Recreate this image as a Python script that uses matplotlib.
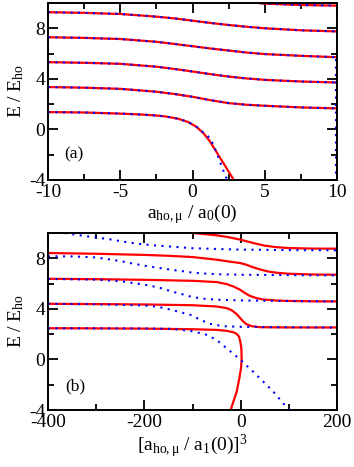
import matplotlib
matplotlib.use("Agg")
import matplotlib.pyplot as plt
from matplotlib.ticker import MultipleLocator

plt.rcParams['font.family'] = ['Liberation Serif', 'DejaVu Serif']
plt.rcParams['mathtext.fontset'] = 'custom'
plt.rcParams['mathtext.rm'] = 'Liberation Serif'
plt.rcParams['mathtext.it'] = 'Liberation Serif:italic'
plt.rcParams['axes.unicode_minus'] = False

# ---- panel (a): s-wave levels ----
xa = [-10, -7.5, -5, -2.5, -1.25, 0, 1.25, 2.5, 3.75, 5, 7.5, 10]
a_lev1 = [9.27, 9.22, 9.13, 8.92, 8.78, 8.6, 8.42, 8.26, 8.12, 8.0, 7.84, 7.75]
a_lev2 = [7.29, 7.24, 7.15, 6.93, 6.76, 6.58, 6.40, 6.24, 6.08, 5.96, 5.82, 5.71]
a_lev3 = [5.32, 5.27, 5.19, 4.96, 4.78, 4.58, 4.37, 4.18, 4.03, 3.92, 3.79, 3.71]
a_lev4 = [3.35, 3.30, 3.21, 2.98, 2.80, 2.58, 2.31, 2.08, 1.95, 1.87, 1.74, 1.66]
a_top_x = [3.2, 3.75, 5, 7.5, 10]
a_top_y = [10.15, 10.08, 9.95, 9.84, 9.79]
a_gnd_x = [-10, -7.5, -5, -3.75, -2.5, -1.9, -0.98, -0.29, 0.29, 0.75, 1.21, 1.56, 1.9, 2.25, 2.6, 2.87]
a_gnd_red = [1.37, 1.34, 1.25, 1.19, 1.1, 1.03, 0.84, 0.58, 0.19, -0.29, -0.95, -1.6, -2.23, -2.87, -3.52, -4.02]
a_gnd_bx = [-10, -7.5, -5, -3.75, -2.5, -1.9, -0.98, -0.29, 0.29, 0.75, 1.21, 1.44, 1.65, 1.85, 2.05, 2.25, 2.42]
a_gnd_blue = [1.37, 1.34, 1.25, 1.19, 1.1, 1.03, 0.84, 0.58, 0.19, -0.25, -0.68, -1.21, -1.79, -2.39, -3.0, -3.6, -4.02]
a_edge_x = [9.95, 9.95]
a_edge_y = [5.6, -4.0]

# ---- panel (b): p-wave levels ----
b_r0_x = [-98, -50, -25, 0, 26, 50, 75, 100, 150, 200]
b_r0_y = [10.0, 9.82, 9.67, 9.47, 9.21, 9.0, 8.88, 8.81, 8.77, 8.76]
b_r1_x = [-400, -300, -200, -150, -100, -50, -25, 0, 12, 25, 36, 50, 61, 75, 100, 150, 200]
b_r1_y = [8.42, 8.36, 8.27, 8.2, 8.1, 7.89, 7.75, 7.62, 7.49, 7.3, 7.17, 7.02, 6.93, 6.86, 6.78, 6.72, 6.7]
b_r2_x = [-400, -300, -200, -100, -50, -29, -15, -1, 9, 19, 33, 47, 75, 100, 150, 200]
b_r2_y = [6.38, 6.35, 6.3, 6.22, 6.12, 5.96, 5.77, 5.51, 5.25, 5.03, 4.85, 4.74, 4.66, 4.63, 4.6, 4.59]
b_r3_x = [-400, -300, -200, -100, -50, -29, -19, -8, -1, 5.5, 12, 23, 40, 100, 200]
b_r3_y = [4.4, 4.38, 4.35, 4.29, 4.19, 4.06, 3.9, 3.58, 3.27, 3.0, 2.79, 2.63, 2.55, 2.53, 2.53]
b_r4_x = [-400, -300, -200, -100, -50, -29, -15, -8.3, -3.5, -0.7, 1.4, 2.1, 0.7, -2.8, -8.3, -15.2, -20.8]
b_r4_y = [2.47, 2.46, 2.44, 2.39, 2.34, 2.26, 2.15, 2.02, 1.81, 1.41, 0.88, 0.09, -0.7, -1.49, -2.55, -3.34, -4.0]

b_b1_x = [-365, -330, -300, -271, -244, -212, -181, -150, -122, -100, -50, 0, 100, 200]
b_b1_y = [10.0, 9.8, 9.65, 9.5, 9.32, 9.15, 9.03, 8.94, 8.86, 8.8, 8.74, 8.69, 8.65, 8.63]
b_b2_x = [-400, -350, -300, -268, -247, -226, -199, -171, -143, -116, -100, -50, 0, 100, 200]
b_b2_y = [8.16, 8.15, 8.07, 7.89, 7.76, 7.6, 7.41, 7.25, 7.09, 6.96, 6.86, 6.74, 6.7, 6.67, 6.65]
b_b3_x = [-400, -300, -247, -199, -171, -143, -122, -100, -75, -50, 0, 100, 200]
b_b3_y = [6.37, 6.31, 6.18, 5.91, 5.7, 5.38, 5.17, 4.93, 4.8, 4.73, 4.67, 4.62, 4.59]
b_b4_x = [-400, -300, -200, -171, -143, -122, -102, -84, -64, -36, 0, 100, 200]
b_b4_y = [4.4, 4.37, 4.27, 4.16, 3.92, 3.71, 3.5, 3.14, 2.82, 2.63, 2.58, 2.55, 2.53]
b_b5_x = [-400, -200, -143, -105, -74, -50, -29, 0, 33, 68, 96, 103]
b_b5_y = [2.47, 2.45, 2.42, 2.26, 2.0, 1.55, 0.88, -0.04, -1.23, -2.55, -3.82, -4.1]

RED = '#ff0000'
BLUE = '#0000ff'
dots = (0, (1, 2.6))

fig = plt.figure(figsize=(3.54, 4.67), dpi=100)
ax1 = fig.add_axes([0.1356, 0.6146, 0.8164, 0.379])
ax2 = fig.add_axes([0.1356, 0.122, 0.8164, 0.379])

# panel (a)
for lev in [a_lev1, a_lev2, a_lev3, a_lev4]:
    ax1.plot(xa, lev, color=RED, lw=1.6)
ax1.plot(a_top_x, a_top_y, color=RED, lw=1.6)
ax1.plot(a_gnd_x, a_gnd_red, color=RED, lw=1.6)
for lev in [a_lev1, a_lev2, a_lev3, a_lev4]:
    ax1.plot(xa, lev, color=BLUE, lw=1.5, ls=dots)
ax1.plot(a_top_x, a_top_y, color=BLUE, lw=1.5, ls=dots)
ax1.plot(a_gnd_bx, a_gnd_blue, color=BLUE, lw=1.5, ls=dots)
ax1.plot(a_edge_x, a_edge_y, color=BLUE, lw=1.5, ls=dots)
ax1.set_xlim(-10, 10)
ax1.xaxis.set_major_locator(MultipleLocator(5))
ax1.xaxis.set_minor_locator(MultipleLocator(2.5))
ax1.set_xlabel(r'$\mathrm{a_{ho,μ}\ /\ a_0(0)}$', fontsize=14, labelpad=1)
ax1.text(-8.2, -2.0, '(a)', fontsize=12.5, ha='center', va='center')

# panel (b)
for xs, ys in [(b_r0_x, b_r0_y), (b_r1_x, b_r1_y), (b_r2_x, b_r2_y),
               (b_r3_x, b_r3_y), (b_r4_x, b_r4_y)]:
    ax2.plot(xs, ys, color=RED, lw=1.6)
for xs, ys in [(b_b1_x, b_b1_y), (b_b2_x, b_b2_y), (b_b3_x, b_b3_y),
               (b_b4_x, b_b4_y), (b_b5_x, b_b5_y)]:
    ax2.plot(xs, ys, color=BLUE, lw=1.5, ls=dots)
ax2.set_xlim(-400, 200)
ax2.xaxis.set_major_locator(MultipleLocator(200))
ax2.xaxis.set_minor_locator(MultipleLocator(100))
ax2.set_xlabel(r'$\mathrm{[a_{ho,μ}\ /\ a_1(0)]^3}$', fontsize=14, labelpad=1)
ax2.text(-344, -2.16, '(b)', fontsize=12.5, ha='center', va='center')

for ax in (ax1, ax2):
    ax.set_ylim(-4, 10)
    ax.yaxis.set_major_locator(MultipleLocator(4))
    ax.yaxis.set_minor_locator(MultipleLocator(2))
    ax.set_ylabel(r'$\mathrm{E\ /\ E_{ho}}$', fontsize=14, labelpad=2)
    ax.tick_params(which='both', direction='in', top=True, right=True, width=1.3)
    ax.tick_params(which='major', length=7, labelsize=14)
    ax.tick_params(which='minor', length=4.5)
    ax.tick_params(axis='y', pad=2)
    ax.tick_params(axis='x', pad=3)
    for sp in ax.spines.values():
        sp.set_linewidth(1.4)

fig.savefig('out.png', dpi=100)
